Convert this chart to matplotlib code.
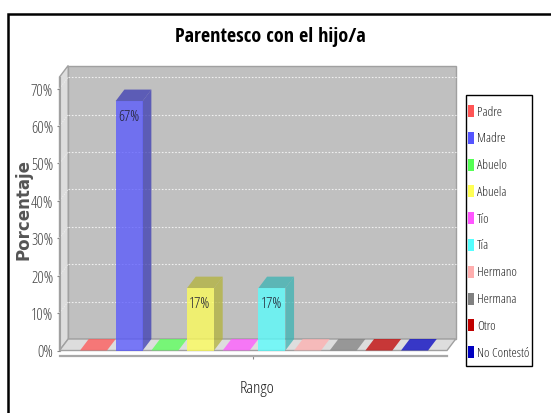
import matplotlib
matplotlib.use('Agg')
import matplotlib.pyplot as plt
from matplotlib.patches import Polygon, Rectangle
from matplotlib.colors import to_rgb
from matplotlib.font_manager import FontProperties

categories = ['Padre', 'Madre', 'Abuelo', 'Abuela', 'Tío', 'Tía', 'Hermano', 'Hermana', 'Otro', 'No Contestó']
values = [0, 66.67, 0, 16.67, 0, 16.67, 0, 0, 0, 0]
colors = ['#FF5555', '#5555FF', '#55FF55', '#FFFF55', '#FF55FF', '#55FFFF', '#FFAFAF', '#808080', '#C00000', '#0000C0']
yticks = [0, 10, 20, 30, 40, 50, 60, 70]

W, H = 551, 414


def narrow(size):
    return FontProperties(family='Open Sans', stretch='condensed', weight='light', size=size)


fig = plt.figure(figsize=(W / 100, H / 100), dpi=100)
# outer border of the chart image, only top and left show
fig.add_artist(Rectangle((7.5 / W, -0.05), (W + 10) / W, 1.05 - 14.5 / H, transform=fig.transFigure,
                         fill=False, ec='black', lw=1.8))

ax = fig.add_axes([59.5 / W, 1 - 351.5 / H, 387.5 / W, 273.5 / H], facecolor='none')
xmin, xmax = -0.953, 9.91
ymax = 73.1
ax.set_xlim(xmin, xmax)
ax.set_ylim(0, ymax)

# 3d depth, in data units
dx, dy = 0.244, 3.07
barw = 0.757

# walls
ax.add_patch(Polygon([(xmin + dx, dy), (xmax + dx, dy), (xmax + dx, ymax + dy), (xmin + dx, ymax + dy)],
                     closed=True, fc='#C0C0C0', ec='#A0A0A0', lw=1, clip_on=False, zorder=1))
ax.add_patch(Polygon([(xmin, 0), (xmin + dx, dy), (xmin + dx, ymax + dy), (xmin, ymax)],
                     closed=True, fc='#DDDDDD', ec='#A0A0A0', lw=1, clip_on=False, zorder=1))
ax.add_patch(Polygon([(xmin, 0), (xmax, 0), (xmax + dx, dy), (xmin + dx, dy)],
                     closed=True, fc='#DDDDDD', ec='#A0A0A0', lw=1, clip_on=False, zorder=1))

# gridlines on the back wall
for t in yticks[1:]:
    ax.plot([xmin + dx, xmax + dx], [t + dy, t + dy], color='#F0F0F0', lw=0.8, ls=(0, (1.5, 1.5)),
            clip_on=False, zorder=2)
    ax.plot([xmin, xmin + dx], [t, t + dy], color='#EEEEEE', lw=0.6, ls=(0, (1.5, 1.5)),
            clip_on=False, zorder=2)

# bars
for i, v in enumerate(values):
    c = to_rgb(colors[i])
    dark = tuple(k * 0.7 for k in c)
    x0, x1 = i - barw / 2, i + barw / 2
    ax.add_patch(Polygon([(x0, v), (x1, v), (x1 + dx, v + dy), (x0 + dx, v + dy)], closed=True,
                         fc=dark if v > 0 else c, alpha=0.75, ec='none', clip_on=False, zorder=3))
    if v > 0:
        ax.add_patch(Polygon([(x1, 0), (x1 + dx, dy), (x1 + dx, v + dy), (x1, v)], closed=True,
                             fc=dark, alpha=0.75, ec='none', clip_on=False, zorder=3))
        ax.bar(i, v, width=barw, color=c, alpha=0.75, zorder=4)
        ax.text(i - 0.02, v - 4.0, '%.0f%%' % v, ha='center', va='center', fontproperties=narrow(11),
                color='#222233', zorder=5)

# axes
ax.spines['top'].set_visible(False)
ax.spines['right'].set_visible(False)
ax.spines['left'].set_color('#A0A0A0')
ax.spines['bottom'].set_color('#A8A8A8')
ax.spines['bottom'].set_linewidth(1.6)
ax.spines['bottom'].set_position(('outward', 4.3))
ax.set_yticks(yticks)
ax.set_yticklabels(['%d%%' % t for t in yticks], fontproperties=narrow(11.5), color='#444444')
ax.tick_params(axis='y', length=2.5, width=0.8, color='#888888', pad=2)
ax.set_xticks([(xmin + xmax) / 2])
ax.set_xticklabels([''])
ax.tick_params(axis='x', length=2.5, width=0.8, color='#888888')

fig.text(257 / W, 1 - 389 / H, 'Rango', fontproperties=narrow(12.5), color='#222222', ha='center', va='center')
fig.text(24 / W, 1 - 210 / H, 'Porcentaje', rotation=90, fontweight='bold', fontsize=12, color='#555555',
         ha='center', va='center')
fig.text(270 / W, 1 - 37 / H, 'Parentesco con el hijo/a', family='Open Sans Condensed', fontweight='bold',
         fontsize=14.5, color='black', ha='center', va='center')

# legend box, laid out by hand because the swatches sit close to the frame
fig.add_artist(Rectangle((466 / W, 1 - 367 / H), 66 / W, 271 / H, transform=fig.transFigure,
                         fc='white', ec='black', lw=1))
for i, name in enumerate(categories):
    row = 112 + 26.8 * i
    fig.add_artist(Rectangle((468 / W, 1 - (row + 6) / H), 6 / W, 12 / H, transform=fig.transFigure,
                             fc=colors[i], ec='none'))
    fig.text(477 / W, 1 - row / H, name, fontproperties=narrow(9.5), color='#222222', ha='left', va='center')

fig.savefig('out.png', dpi=100)
